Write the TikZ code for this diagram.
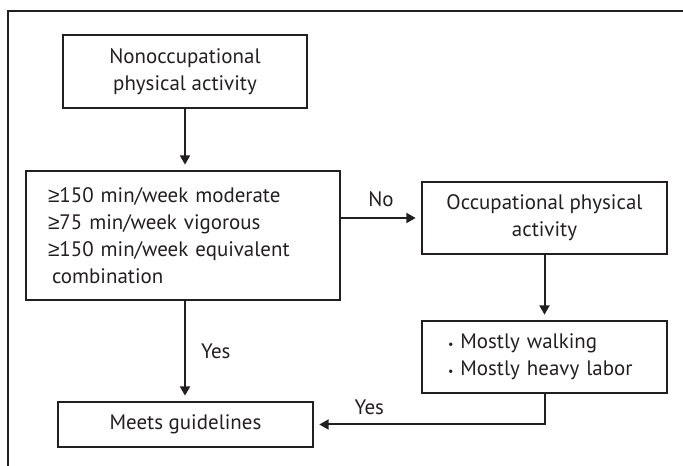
\documentclass[tikz,border=0pt]{standalone}
\usepackage{fontspec}
\setmainfont{PT Sans}
\newfontfamily\symfont{Liberation Sans}
\usetikzlibrary{arrows.meta}
\definecolor{ink}{HTML}{231F20}
\newcommand{\atleast}{{\symfont ≥}}

\begin{document}
\begin{tikzpicture}[x=0.75pt, y=-0.75pt, font=\fontsize{15.7}{20.25}\selectfont, color=ink,
        box/.style={draw, line width=1.5pt, inner sep=0pt, align=center},
        arr/.style={line width=1.5pt, -{Triangle[length=7pt,width=7.5pt]}, shorten >=4pt}]
        \useasboundingbox (0,0) rectangle (683,466);
        \draw[line width=1.8pt] (8,466) -- (8,11) -- (683,11);
        % boxes
        \node[box, minimum width=183pt, minimum height=54.75pt] (nonocc) at (185,71.5) {Nonoccupational\\physical activity};
        \node[box, text width=202.5pt, inner xsep=16.5pt, minimum height=96.75pt, align=left] (crit) at (183,235.5)
            {\atleast150 min/week moderate\\\atleast75 min/week vigorous\\\atleast150 min/week equivalent\\\hspace{3pt}combination};
        \node[box, minimum width=183.75pt, minimum height=54pt] (occ) at (544.5,218) {Occupational physical\\activity};
        \node[box, text width=144.75pt, inner xsep=19.5pt, minimum height=54pt, align=left] (kind) at (544.5,357)
            {{\small•}~Mostly walking\\{\small•}~Mostly heavy labor};
        \node[box, minimum width=191.25pt, minimum height=33.75pt] (meets) at (185.5,424.5) {Meets guidelines};
        % arrows
        \draw[arr] (nonocc.south) -- (nonocc.south |- crit.north);
        \draw[arr] (crit.east |- occ.west) -- (occ.west) node[midway, above=4pt] {No};
        \draw[arr] (crit.south -| nonocc.south) -- (meets.north -| nonocc.south) node[midway, right=8pt] {Yes};
        \draw[arr] (occ.south) -- (kind.north);
        \draw[arr] (kind.south) |- (meets.east) node[pos=0.88, above=3pt] {Yes};
\end{tikzpicture}
\end{document}
